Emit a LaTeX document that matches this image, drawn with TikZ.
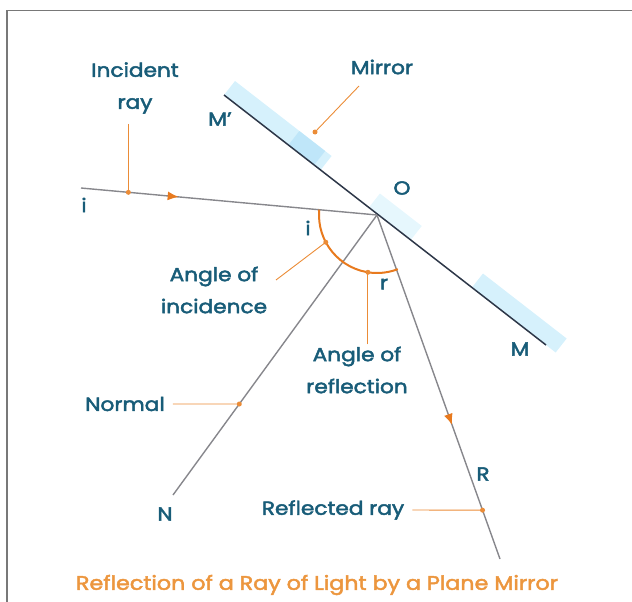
\documentclass[tikz,border=0pt]{standalone}
\usepackage{fontspec}
\usepackage{tikz}
\usetikzlibrary{arrows.meta, positioning, calc, decorations.markings}
\setmainfont{Poppins}[FakeStretch=1.14, FakeBold=2.4]
\definecolor{labelblue}{RGB}{24, 92, 120}
\definecolor{leaderorange}{RGB}{235, 140, 55}
\definecolor{arcorange}{RGB}{232, 122, 30}
\definecolor{captionorange}{RGB}{236, 150, 62}
\definecolor{raygray}{RGB}{135, 135, 140}
\definecolor{mirrorline}{RGB}{45, 55, 72}
\definecolor{mirrorglass}{RGB}{214, 241, 252}
\definecolor{mirrorpatch}{RGB}{182, 226, 248}
\definecolor{framegray}{RGB}{120, 120, 120}

\tikzset{
  lbl/.style={text=labelblue, font=\fontsize{19}{32}\selectfont, align=center, inner sep=2pt},
  ray/.style={draw=raygray, line width=1.4pt},
  leader/.style={draw=leaderorange, line width=0.9pt},
  dotmark/.style={fill=leaderorange, circle, inner sep=0pt, minimum size=5pt},
  glass/.style={fill=mirrorglass, draw=none},
  raytip/.style={postaction={decorate},
    decoration={markings, mark=at position #1 with {\arrow[arcorange]{Latex[length=11pt,width=9pt]}}}}
}

\begin{document}
\begin{tikzpicture}[x=1pt, y=1pt]
    \useasboundingbox (0,0) rectangle (632,-602);
    % frame
    \draw[framegray, line width=1.5pt] (7,-602) -- (7,-10.5) -- (632,-10.5);

    % main points
    \coordinate (O) at (377,-215);
    \coordinate (I) at (81,-188);
    \coordinate (N) at (173,-495);
    \coordinate (R) at (500,-559);
    \coordinate (Mp) at (224,-95);
    \coordinate (M) at (546,-345);

    % mirror glass
    \fill[glass] (Mp) -- ($(Mp)!0.3!(M)$) -- ++(11,14) -- ($(Mp)+(11,14)$) -- cycle;
    \fill[mirrorpatch, opacity=0.7] ($(Mp)!0.2!(M)$) -- ($(Mp)!0.28!(M)$) -- ++(11,14) -- ($($(Mp)!0.2!(M)$)+(11,14)$) -- cycle;
    \fill[glass, opacity=0.6] ($(Mp)!0.45!(M)$) -- ($(Mp)!0.58!(M)$) -- ++(11,14) -- ($($(Mp)!0.45!(M)$)+(11,14)$) -- cycle;
    \fill[glass] ($(Mp)!0.77!(M)$) -- ($(Mp)!1.03!(M)$) -- ++(11,14) -- ($($(Mp)!0.77!(M)$)+(11,14)$) -- cycle;
    \draw[mirrorline, line width=1.5pt] (Mp) -- (M);

    % rays
    \draw[ray, raytip=0.33] (I) -- (O);
    \draw[ray] (O) -- (N);
    \draw[ray, raytip=0.61] (O) -- (R);
    \draw[arcorange, line width=2pt] ($(O)+(174.8:58)$) arc[start angle=174.8, end angle=291, radius=58];

    % labels
    \node[lbl] (inctxt) at (135,-88) {Incident\\ray};
    \node[lbl] (mirtxt) at (382,-67) {Mirror};
    \node[lbl] (mptxt) at (220,-119) {M'};
    \node[lbl] (otxt) at (402,-188) {O};
    \node[lbl] (itxt) at (84,-205) {i};
    \node[lbl] (angitxt) at (308,-228) {i};
    \node[lbl] (incangtxt) at (214,-290) {Angle of\\incidence};
    \node[lbl] (rtxt) at (384,-284) {r};
    \node[lbl] (reflangtxt) at (357,-370) {Angle of\\reflection};
    \node[lbl] (mtxt) at (520,-349) {M};
    \node[lbl] (normtxt) at (125,-404) {Normal};
    \node[lbl] (ntxt) at (165,-514) {N};
    \node[lbl] (Rtxt) at (483,-474) {R};
    \node[lbl] (refltxt) at (333,-510) {Reflected ray};
    \node[text=captionorange, font=\fontsize{19.5}{22}\selectfont] (caption) at (317,-585)
        {Reflection of a Ray of Light by a Plane Mirror};

    % pointer dots
    \coordinate (incdot) at ($(I)!0.16!(O)$);
    \coordinate (mirdot) at (315,-132);
    \coordinate (idot) at ($(O)+(208:58)$);
    \coordinate (rdot) at ($(O)+(261:58)$);
    \coordinate (normdot) at ($(O)!0.675!(N)$);
    \coordinate (refdot) at ($(O)!0.858!(R)$);
    \coordinate (mirfoot) at (359,-86);
    \coordinate (incangfoot) at (276,-280);

    % leaders
    \draw[leader] ([yshift=-8pt]incdot |- inctxt.south) -- (incdot);
    \draw[leader] (mirfoot) -- (mirdot);
    \draw[leader] (incangfoot) -- (idot);
    \draw[leader] (rdot |- reflangtxt.north) -- (rdot);
    \draw[leader, shorten <=6pt] (normtxt.east) -- (normdot);
    \draw[leader, shorten <=6pt] (refltxt.east) -- (refdot);
    \foreach \p in {incdot, mirdot, idot, rdot, normdot, refdot}
        \node[dotmark] at (\p) {};
\end{tikzpicture}
\end{document}
